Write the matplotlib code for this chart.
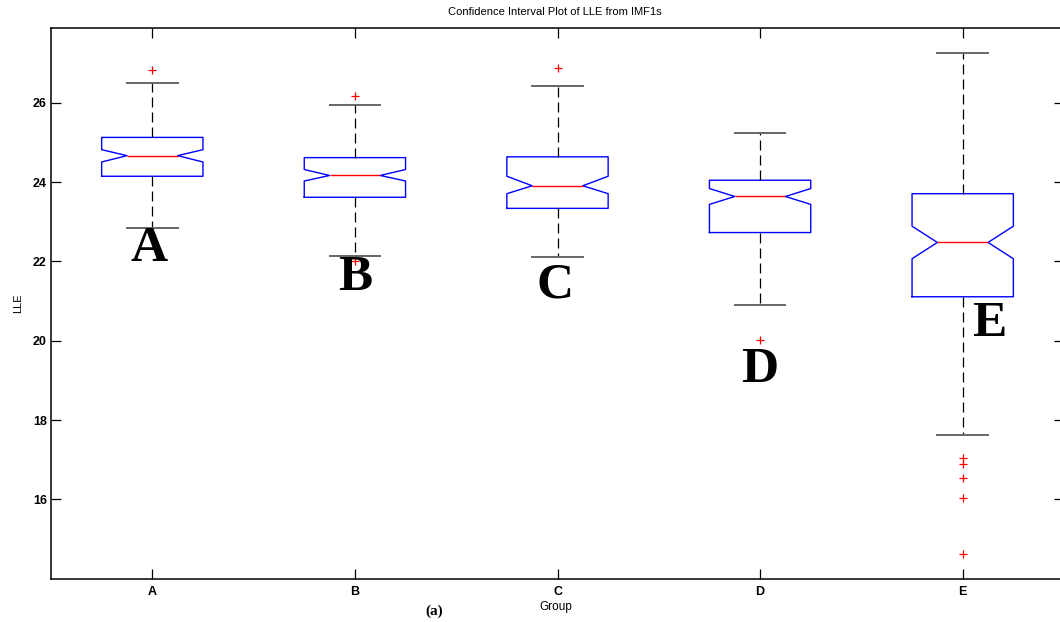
import matplotlib
matplotlib.use("Agg")
import matplotlib.pyplot as plt

# five-number summaries
groups = ["A", "B", "C", "D", "E"]
q1 = [24.15, 23.62, 23.34, 22.73, 21.11]
med = [24.67, 24.17, 23.91, 23.64, 22.48]
q3 = [25.13, 24.62, 24.64, 24.05, 23.71]
ci_lo = [24.51, 24.03, 23.71, 23.44, 22.07]
ci_hi = [24.82, 24.32, 24.15, 23.84, 22.89]
whis_lo = [22.84, 22.14, 22.11, 20.91, 17.62]
whis_hi = [26.49, 25.94, 26.43, 25.23, 27.25]
outliers = [[26.83], [26.17, 22.02], [26.89], [20.01],
            [17.05, 16.88, 16.53, 16.04, 14.62]]

# big annotation letters (x, y baseline)
letter_x = [0.985, 2.0, 2.99, 4.0, 5.13]
letter_y = [22.0, 21.29, 21.08, 18.97, 20.13]

stats = []
for i, g in enumerate(groups):
    stats.append(dict(label=g, med=med[i], q1=q1[i], q3=q3[i],
                      cilo=ci_lo[i], cihi=ci_hi[i],
                      whislo=whis_lo[i], whishi=whis_hi[i],
                      fliers=outliers[i]))

fig = plt.figure(figsize=(10.6, 6.22), dpi=100)
ax = fig.add_axes([51 / 1060, 1 - 579 / 622, 1013 / 1060, 551 / 622])

ax.bxp(stats, positions=range(1, 6), widths=0.5, capwidths=0.25,
       shownotches=True,
       boxprops=dict(color="#0000ff", linewidth=1.0),
       medianprops=dict(color="#ff0000", linewidth=1.0),
       whiskerprops=dict(color="black", linewidth=0.9, linestyle=(0, (8, 4))),
       capprops=dict(color="0.4", linewidth=1.4),
       flierprops=dict(marker="+", markeredgecolor="#ff0000",
                       markersize=6, markeredgewidth=0.9, linestyle="none"))

ax.set_xlim(0.5, 5.5)
ax.set_ylim(13.99, 27.89)
ax.set_yticks([16, 18, 20, 22, 24, 26])
ax.set_xticks(range(1, 6))
ax.set_xticklabels(groups)

for sp in ax.spines.values():
    sp.set_linewidth(1.1)
ax.tick_params(direction="in", length=7, width=0.9, top=True, right=True,
               labelsize=9)
ax.tick_params(axis="y", pad=3)
ax.tick_params(axis="x", pad=5)
for lab in ax.get_xticklabels() + ax.get_yticklabels():
    lab.set_fontweight("bold")
    lab.set_family("Liberation Sans")

for g, x, y in zip(groups, letter_x, letter_y):
    ax.text(x, y, g, ha="center", va="baseline", fontsize=37,
            fontweight="bold", family="Liberation Serif")

fig.text(555 / 1060, 1 - 12 / 622, "Confidence Interval Plot of LLE from IMF1s",
         ha="center", va="center", fontsize=8, family="Liberation Sans")
fig.text(556 / 1060, 1 - 607 / 622, "Group", ha="center", va="center",
         fontsize=8.5, family="Liberation Sans")
fig.text(18 / 1060, 1 - 303 / 622, "LLE", ha="center", va="center",
         rotation=90, fontsize=8, family="Liberation Sans")
fig.text(434 / 1060, 1 - 611 / 622, "(a)", ha="center", va="center",
         fontsize=11, fontweight="bold", family="Liberation Serif")

fig.savefig("out.png", dpi=100)
